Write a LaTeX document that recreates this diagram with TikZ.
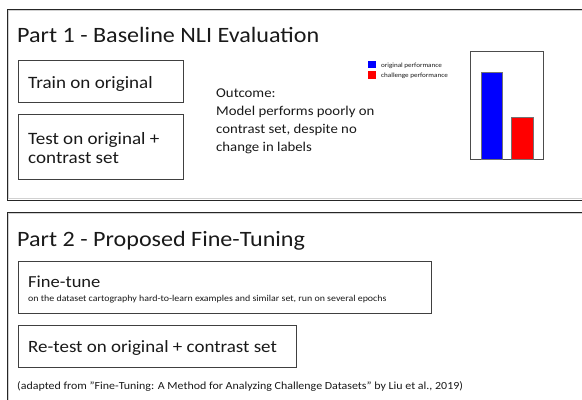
\documentclass[tikz,border=0pt]{standalone}
\usepackage{fontspec}
\setmainfont{Carlito}[FakeStretch=1.1]
\begin{document}
\begin{tikzpicture}[x=1bp,y=-1bp,
  outer/.style={draw=black!85,line width=1bp},
  outershade/.style={draw=black!18,line width=0.7bp},
  stepbox/.style={draw=black!75,line width=0.9bp,anchor=north west,inner sep=0pt},
  bar/.style={draw=black!55,line width=0.8bp},
  txt/.style={anchor=base west,inner sep=0pt,text=black!90},
  big/.style={font=\fontsize{17.4}{21}\selectfont},
  mid/.style={font=\fontsize{13.5}{18}\selectfont}]
\useasboundingbox (0,0) rectangle (582,399);
% outer panels
\draw[outershade] (600,10.5) -- (8.5,10.5) -- (8.5,198.5) -- (600,198.5);
\draw[outer] (600,9) -- (7,9) -- (7,200) -- (600,200);
\draw[outershade] (600,213.5) -- (8.5,213.5) -- (8.5,420);
\draw[outer] (600,212) -- (7,212) -- (7,420);
% Part 1
\node[txt,font=\fontsize{22}{26}\selectfont] (t1) at (17,42) {Part 1 - Baseline NLI Evaluation};
\node[stepbox,minimum width=165bp,minimum height=42bp] (train) at (18,60) {};
\node[txt,big] (trainT) at (28,88) {Train on original};
\node[stepbox,minimum width=165bp,minimum height=65bp] (test) at (18,114) {};
\node[txt,big] (testT1) at (28,144) {Test on original +};
\node[txt,big] (testT2) at (28,163) {contrast set};
\node[txt,mid] (o1) at (216,97) {Outcome:};
\node[txt,mid] (o2) at (216,115) {Model performs poorly on};
\node[txt,mid] (o3) at (216,133) {contrast set, despite no};
\node[txt,mid] (o4) at (216,151) {change in labels};
% legend
\fill[blue] (368,61) rectangle (376,68);
\fill[red] (368,71) rectangle (376,79);
\node[txt,font=\fontsize{6.5}{7}\selectfont] (l1) at (381,67) {original performance};
\node[txt,font=\fontsize{6.5}{7}\selectfont] (l2) at (381,77) {challenge performance};
% chart
\draw[draw=black!70,line width=1bp] (470,51) rectangle (543,159);
\draw[bar,fill=blue] (481,72) rectangle (502,159);
\draw[bar,fill=red] (511,117) rectangle (533,159);
% Part 2
\node[txt,font=\fontsize{22}{26}\selectfont] (t2) at (17,246) {Part 2 - Proposed Fine-Tuning};
\node[stepbox,minimum width=413bp,minimum height=52bp] (fine) at (18,261) {};
\node[txt,font=\fontsize{16.9}{20}\selectfont] (ft) at (28,287) {Fine-tune};
\node[txt,font=\fontsize{9.05}{11}\selectfont] (fts) at (28,301) {on the dataset cartography hard-to-learn examples and similar set, run on several epochs};
\node[stepbox,minimum width=278bp,minimum height=42bp] (retest) at (18,325) {};
\node[txt,font=\fontsize{17.3}{20}\selectfont] (rt) at (28,352) {Re-test on original + contrast set};
\node[txt,font=\fontsize{10.9}{12}\selectfont] (fn) at (17,389) {(adapted from "Fine-Tuning: A Method for Analyzing Challenge Datasets" by Liu et al., 2019)};
\end{tikzpicture}
\end{document}
